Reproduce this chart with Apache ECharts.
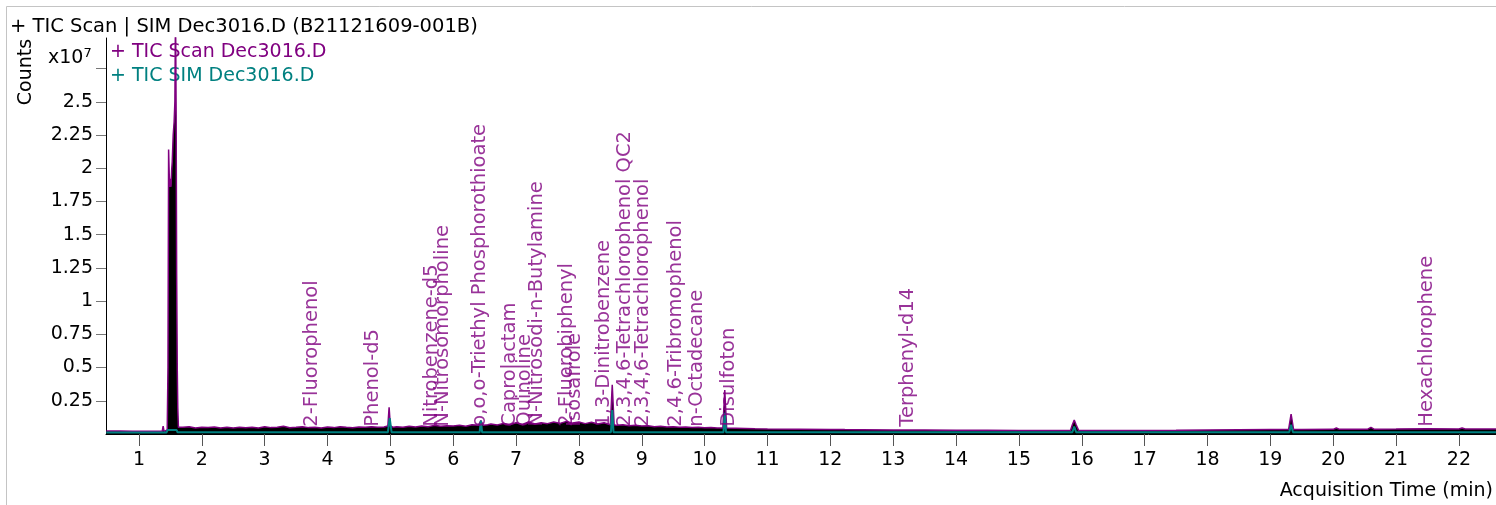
<!DOCTYPE html>
<html>
<head>
<meta charset="utf-8">
<script src="https://cdn.jsdelivr.net/npm/echarts@6/dist/echarts.min.js"></script>
<style>
html,body{margin:0;padding:0;background:#fff;}
#chart{width:1496px;height:505px;}
</style>
</head>
<body>
<div id="chart"></div>
<script>
// Values in units of 10^7 counts, time in minutes
const scanTrace = [
  [0.48,0.022],[0.7,0.022],[0.9,0.021],[1.1,0.02],[1.3,0.02],[1.37,0.02],[1.385,0.06],[1.40,0.02],[1.45,0.03],
  [1.462,0.5],[1.472,2.14],[1.482,1.95],[1.49,1.86],[1.50,1.92],[1.51,1.86],[1.52,1.98],[1.53,2.05],
  [1.545,2.25],[1.56,2.35],[1.572,2.5],[1.582,3.2],[1.592,2.4],[1.60,1.2],[1.61,0.48],[1.618,0.2],[1.628,0.05],
  [1.65,0.045],[1.7,0.05],[1.8,0.055],[1.9,0.045],[2.0,0.05],[2.1,0.048],[2.2,0.052],[2.3,0.045],[2.4,0.05],
  [2.5,0.046],[2.6,0.05],[2.7,0.047],[2.8,0.05],[2.9,0.045],[3.0,0.055],[3.1,0.048],[3.2,0.05],[3.3,0.058],
  [3.4,0.047],[3.5,0.05],[3.6,0.055],[3.7,0.048],[3.8,0.05],[3.9,0.046],[4.0,0.052],[4.1,0.048],[4.2,0.055],
  [4.3,0.05],[4.4,0.047],[4.5,0.053],[4.6,0.05],[4.7,0.055],[4.8,0.05],[4.9,0.052],[4.96,0.06],[4.98,0.2],
  [5.0,0.06],[5.05,0.05],[5.1,0.055],[5.2,0.05],[5.3,0.058],[5.4,0.052],[5.5,0.06],[5.6,0.055],[5.7,0.065],
  [5.8,0.058],[5.9,0.062],[6.0,0.06],[6.1,0.065],[6.2,0.058],[6.3,0.07],[6.4,0.065],[6.44,0.1],[6.48,0.065],
  [6.55,0.07],[6.6,0.075],[6.7,0.068],[6.8,0.08],[6.9,0.07],[7.0,0.085],[7.1,0.072],[7.2,0.09],[7.3,0.075],
  [7.4,0.085],[7.5,0.078],[7.6,0.09],[7.7,0.08],[7.8,0.095],[7.9,0.082],[8.0,0.09],[8.1,0.078],[8.2,0.088],
  [8.3,0.075],[8.4,0.085],[8.5,0.07],[8.53,0.37],[8.56,0.07],[8.6,0.065],[8.7,0.07],[8.8,0.062],[8.9,0.065],
  [9.0,0.06],[9.1,0.062],[9.2,0.055],[9.3,0.058],[9.4,0.052],[9.5,0.055],[9.6,0.05],[9.7,0.052],[9.8,0.048],
  [9.9,0.05],[10.0,0.047],[10.1,0.048],[10.2,0.045],[10.29,0.046],[10.32,0.33],[10.35,0.045],[10.5,0.044],
  [10.8,0.04],[11.0,0.038],[11.5,0.036],[12.0,0.034],[12.18,0.034],[12.2,0.042],[12.23,0.033],[12.5,0.032],
  [13.0,0.03],[13.08,0.03],[13.1,0.037],[13.13,0.03],[13.5,0.03],[14.0,0.028],[14.5,0.028],[15.0,0.027],
  [15.5,0.027],[15.82,0.027],[15.85,0.07],[15.88,0.105],[15.91,0.07],[15.95,0.027],[16.5,0.027],[17.0,0.027],
  [17.5,0.028],[18.0,0.03],[18.5,0.032],[19.0,0.033],[19.29,0.033],[19.33,0.15],[19.37,0.033],[19.5,0.033],
  [20.0,0.035],[20.05,0.045],[20.1,0.035],[20.55,0.036],[20.6,0.05],[20.65,0.036],[21.0,0.037],[21.5,0.04],
  [22.0,0.038],[22.05,0.045],[22.1,0.038],[22.6,0.038]
];
const simTrace = [
  [0.48,0.012],[1.44,0.012],[1.455,0.03],[1.6,0.03],[1.615,0.013],[4.96,0.013],[4.99,0.12],[5.02,0.013],
  [6.42,0.013],[6.44,0.1],[6.46,0.013],[8.51,0.013],[8.53,0.18],[8.55,0.013],[10.3,0.013],[10.32,0.16],
  [10.34,0.013],[15.85,0.013],[15.88,0.055],[15.91,0.013],[19.3,0.013],[19.33,0.07],[19.36,0.013],[22.6,0.013]
];
const compoundNames = [
  '2-Fluorophenol','Phenol-d5','Nitrobenzene-d5','N-Nitrosomorpholine','o,o,o-Triethyl Phosphorothioate',
  'Caprolactam','Quinoline','N-Nitrosodi-n-Butylamine','2-Fluorobiphenyl','Isosafrole','1,3-Dinitrobenzene',
  '2,3,4,6-Tetrachlorophenol QC2','2,3,4,6-Tetrachlorophenol','2,4,6-Tribromophenol','n-Octadecane',
  'Disulfoton','Terphenyl-d14','Hexachlorophene'
];
const compoundTimes = [3.76,4.72,5.66,5.83,6.43,6.90,7.14,7.33,7.81,7.94,8.39,8.73,9.02,9.55,9.87,10.38,13.23,21.49];
const xTicks = [1,2,3,4,5,6,7,8,9,10,11,12,13,14,15,16,17,18,19,20,21,22];
const yTicks = [0.25,0.5,0.75,1,1.25,1.5,1.75,2,2.25,2.5,2.75];
const yLabels = [0.25,0.5,0.75,1,1.25,1.5,1.75,2,2.25,2.5];

const FONT = 'DejaVu Sans';
const PURPLE = '#800080', TEAL = '#008080';

const chart = echarts.init(document.getElementById('chart'), null, {renderer:'canvas'});
chart.setOption({
  animation: false,
  backgroundColor: '#fff',
  textStyle: {fontFamily: FONT},
  grid: {left:106, top:38, right:0, bottom:71, containLabel:false},
  xAxis: {
    type:'value', min:0.476, max:22.59,
    axisLine:{show:true, lineStyle:{color:'#000', width:1}},
    axisTick:{show:true, customValues:xTicks, length:12, lineStyle:{color:'#555'}},
    axisLabel:{show:true, customValues:xTicks, margin:17, color:'#000', fontSize:19, fontFamily:FONT},
    splitLine:{show:false}
  },
  yAxis: {
    type:'value', min:0, max:2.98,
    axisLine:{show:true, lineStyle:{color:'#000', width:1}},
    axisTick:{show:true, customValues:yTicks, length:10, lineStyle:{color:'#777'}},
    axisLabel:{show:true, customValues:yLabels, margin:13, color:'#000', fontSize:19, fontFamily:FONT,
      formatter: v => String(v)},
    splitLine:{show:false}
  },
  series: [
    {
      name:'TIC Scan Dec3016.D', type:'line', data:scanTrace, symbol:'none', clip:true,
      lineStyle:{color:PURPLE, width:1.5}, areaStyle:{color:'#000', opacity:1}, z:2
    },
    {
      name:'TIC SIM Dec3016.D', type:'line', data:simTrace, symbol:'none', clip:true,
      lineStyle:{color:TEAL, width:2}, z:3
    },
    {
      name:'labels', type:'scatter', symbolSize:0, z:4,
      data: compoundNames.map((n,i)=>({name:n, value:[compoundTimes[i], 0.055]})),
      label:{show:true, formatter:p=>p.name, rotate:90, position:[0,0], align:'left', verticalAlign:'middle',
        color:PURPLE, fontSize:19.5, fontFamily:FONT}
    }
  ],
  graphic: [
    {type:'rect', shape:{x:6.5, y:6.5, width:1500, height:510}, style:{fill:null, stroke:'#c4c4c4', lineWidth:1}, silent:true},
    {type:'text', left:10, top:17, style:{text:'+ TIC Scan | SIM Dec3016.D (B21121609-001B)', font:'19.5px "DejaVu Sans"', fill:'#000'}},
    {type:'text', x:26, y:72, rotation:Math.PI/2, style:{text:'Counts', font:'19px "DejaVu Sans"', fill:'#000', align:'center', verticalAlign:'middle'}},
    {type:'text', left:48, top:47, style:{text:'x10{s|7}', font:'19px "DejaVu Sans"', fill:'#000',
      rich:{s:{fontSize:13, verticalAlign:'top', padding:[0,0,10,0], fontFamily:FONT}}}},
    {type:'text', left:110, top:43, style:{text:'+ TIC Scan Dec3016.D', font:'19px "DejaVu Sans"', fill:PURPLE}},
    {type:'text', left:110, top:67, style:{text:'+ TIC SIM Dec3016.D', font:'19px "DejaVu Sans"', fill:TEAL}},
    {type:'text', right:3, top:482, style:{text:'Acquisition Time (min)', font:'19px "DejaVu Sans"', fill:'#000'}}
  ]
});
</script>
</body>
</html>
